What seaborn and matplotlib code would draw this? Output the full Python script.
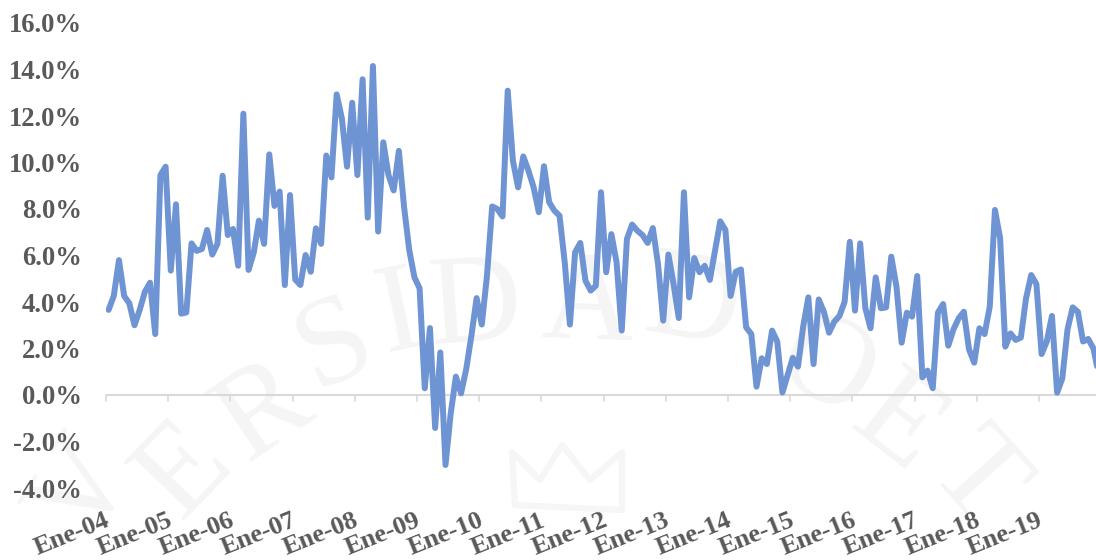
import matplotlib
matplotlib.use("Agg")
import matplotlib.pyplot as plt
from matplotlib.lines import Line2D
from matplotlib.transforms import ScaledTranslation
import numpy as np
import pandas as pd
import seaborn as sns

# Monthly rate, percent, January 2004 to December 2019
y2004 = [3.66, 4.26, 5.80, 4.26, 3.94, 3.00, 3.66, 4.44, 4.83, 2.62, 9.46, 9.82]
y2005 = [5.35, 8.20, 3.50, 3.55, 6.52, 6.20, 6.28, 7.10, 6.04, 6.50, 9.43, 6.88]
y2006 = [7.14, 5.56, 12.10, 5.38, 6.12, 7.50, 6.50, 10.35, 8.13, 8.75, 4.73, 8.60]
y2007 = [4.97, 4.73, 6.02, 5.30, 7.17, 6.50, 10.30, 9.36, 12.93, 11.90, 9.82, 12.57]
y2008 = [9.46, 13.58, 7.63, 14.15, 7.03, 10.87, 9.46, 8.80, 10.50, 8.10, 6.24, 5.06]
y2009 = [4.59, 0.29, 2.88, -1.42, 1.83, -3.01, -0.80, 0.79, 0.07, 1.12, 2.55, 4.17]
y2010 = [3.03, 5.13, 8.11, 8.00, 7.68, 13.09, 10.08, 8.93, 10.26, 9.65, 8.93, 7.86]
y2011 = [9.84, 8.29, 7.93, 7.71, 5.71, 3.03, 6.14, 6.54, 4.92, 4.49, 4.70, 8.72]
y2012 = [5.28, 6.92, 5.71, 2.77, 6.71, 7.33, 7.07, 6.88, 6.54, 7.18, 5.63, 3.20]
y2013 = [6.04, 4.77, 3.31, 8.72, 4.20, 5.89, 5.28, 5.56, 4.95, 6.20, 7.47, 7.10]
y2014 = [4.26, 5.30, 5.40, 2.91, 2.62, 0.36, 1.58, 1.33, 2.77, 2.30, 0.11, 0.86]
y2015 = [1.60, 1.22, 2.94, 4.20, 1.33, 4.11, 3.58, 2.68, 3.15, 3.40, 4.01, 6.59]
y2016 = [3.63, 6.52, 3.73, 2.87, 5.06, 3.73, 3.77, 5.95, 4.66, 2.25, 3.54, 3.37]
y2017 = [5.12, 0.76, 1.05, 0.29, 3.54, 3.91, 2.12, 2.82, 3.30, 3.58, 1.96, 1.39]
y2018 = [2.87, 2.62, 3.80, 7.96, 6.74, 2.08, 2.65, 2.37, 2.47, 4.16, 5.16, 4.77]
y2019 = [1.76, 2.30, 3.40, 0.10, 0.72, 2.82, 3.77, 3.58, 2.30, 2.41, 2.00, 0.90]

years = [y2004, y2005, y2006, y2007, y2008, y2009, y2010, y2011,
         y2012, y2013, y2014, y2015, y2016, y2017, y2018, y2019]
year_labels = ["Ene-04", "Ene-05", "Ene-06", "Ene-07", "Ene-08", "Ene-09",
               "Ene-10", "Ene-11", "Ene-12", "Ene-13", "Ene-14", "Ene-15",
               "Ene-16", "Ene-17", "Ene-18", "Ene-19"]
y_ticks = [-4, -2, 0, 2, 4, 6, 8, 10, 12, 14, 16]

# Crest lettering behind the plot: character, x, y (pixels from top left), angle
crest = [("V", 85, 492, 58), ("E", 185, 472, 46), ("R", 265, 413, 34),
         ("S", 335, 347, 24), ("I", 400, 318, 12), ("D", 475, 310, 4),
         ("A", 588, 308, -2), ("D", 692, 308, -10), ("O", 825, 372, -28),
         ("E", 897, 427, -38), ("T", 975, 480, -48)]
crown_x = [515, 512, 540, 562, 590, 622, 622, 515]
crown_y = [505, 452, 480, 445, 480, 452, 510, 505]

values = [v for yr in years for v in yr]
df = pd.DataFrame({"mes": np.arange(len(values)), "tasa": values})

W, H = 1096, 560
sns.set_theme(style="white", rc={"font.family": ["Liberation Serif"], "font.weight": "bold"})
fig = plt.figure(figsize=(W / 100, H / 100), dpi=100)
left, right, top, bottom = 106, 1096, 23, 488
ax = fig.add_axes([left / W, 1 - bottom / H, (right - left) / W, (bottom - top) / H])
ax.patch.set_alpha(0)
ax.set_zorder(2)

for ch, px, py, ang in crest:
    fig.text(px / W, 1 - py / H, ch, fontsize=92, color="#f5f5f5", rotation=ang,
             ha="center", va="center", fontweight="normal", zorder=0)
fig.add_artist(Line2D([x / W for x in crown_x], [1 - y / H for y in crown_y],
                      color="#f6f6f6", lw=4.5, zorder=0))

sns.lineplot(data=df, x="mes", y="tasa", ax=ax, color="#6f94d4", linewidth=4.3,
             solid_joinstyle="round", solid_capstyle="round", errorbar=None)

step = 62.2 / 12
ax.set_xlim(-0.5, -0.5 + (right - left) / step)
ax.set_ylim(-4, 16)
ax.set_xlabel("")
ax.set_ylabel("")
sns.despine(ax=ax, left=True, top=True, right=True, bottom=True)

ax.axhline(0, color="#d9d9d9", lw=1.5, zorder=1)
tick_pos = np.arange(len(years)) * 12 - 0.5
for t in tick_pos:
    ax.plot([t, t], [0, -0.25], color="#d9d9d9", lw=1.2, zorder=1, clip_on=False)

ax.set_yticks(y_ticks)
ax.set_yticklabels([f"{v:.1f}%" for v in y_ticks], fontsize=19.2, fontweight="bold", color="#595959")
ax.tick_params(axis="y", length=0, pad=17.5)
ax.set_xticks(tick_pos)
ax.set_xticklabels(year_labels, fontsize=19, fontweight="bold", color="#595959",
                   rotation=22, ha="right", rotation_mode="anchor")
ax.tick_params(axis="x", length=0, pad=15)

# Pull the slanted year labels slightly left of their ticks
nudge = ScaledTranslation(-1.5 / 100, 0, fig.dpi_scale_trans)
for lab in ax.get_xticklabels():
    lab.set_transform(lab.get_transform() + nudge)

fig.savefig("out.png", dpi=100)
